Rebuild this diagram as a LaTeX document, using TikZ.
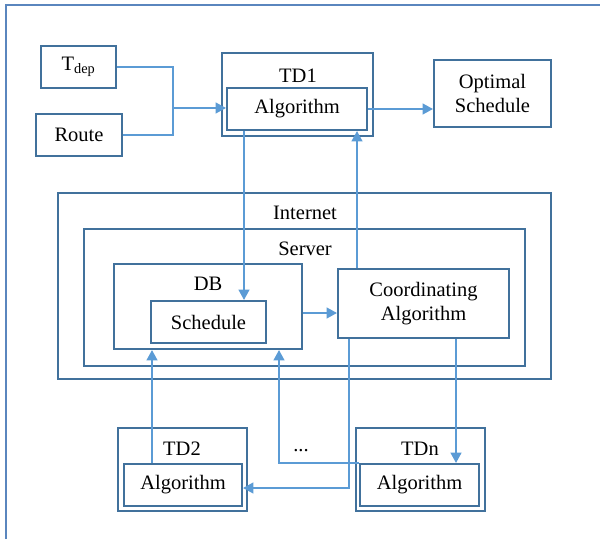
\documentclass[tikz,border=0pt]{standalone}
\usepackage{fontspec}
\setmainfont{Liberation Serif}
\usetikzlibrary{arrows.meta}
\definecolor{boxblue}{HTML}{41719C}
\definecolor{linkblue}{HTML}{5B9BD5}
\definecolor{frameblue}{HTML}{5A86BE}

\begin{document}
\begin{tikzpicture}[x=0.03cm,y=-0.03cm,>={Triangle[width=9pt,length=9pt]},
    box/.style={draw=boxblue,line width=1.5pt,rectangle,inner sep=0pt,align=center,font=\fontsize{17.5}{20}\selectfont},
    tag/.style={inner sep=0pt,font=\fontsize{17.5}{20}\selectfont},
    link/.style={draw=linkblue,line width=2.3pt}]
                \useasboundingbox (0,0) rectangle (600,539);
                \draw[frameblue,line width=1.5pt] (6,539) -- (6,5) -- (600,5);

                \node[box,minimum width=2.25cm,minimum height=1.26cm] (tdep) at (78.5,67) {T\textsubscript{dep}};
                \node[box,minimum width=2.58cm,minimum height=1.26cm] (route) at (79,135) {Route};
                \node[box,minimum width=4.53cm,minimum height=2.49cm] (td1) at (297.5,94.5) {};
                \node[tag] (td1tag) at (298,76) {TD1};
                \node[box,minimum width=4.2cm,minimum height=1.26cm] (alg1) at (297,109) {Algorithm};
                \node[box,minimum width=3.51cm,minimum height=2.01cm] (opt) at (492.5,93.5) {Optimal\\Schedule};

                \node[box,minimum width=14.79cm,minimum height=5.58cm] (internet) at (304.5,286) {};
                \node[tag] (internettag) at (305,213) {Internet};
                \node[box,minimum width=13.23cm,minimum height=4.11cm] (server) at (304.5,297.5) {};
                \node[tag] (servertag) at (305,249) {Server};
                \node[box,minimum width=5.64cm,minimum height=2.55cm] (db) at (208,306.5) {};
                \node[tag] (dbtag) at (208,284) {DB};
                \node[box,minimum width=3.45cm,minimum height=1.26cm] (sched) at (208.5,322) {Schedule};
                \node[box,minimum width=5.13cm,minimum height=2.07cm] (coord) at (423.5,303.5) {Coordinating\\Algorithm};

                \node[box,minimum width=3.87cm,minimum height=2.49cm] (td2) at (182.5,469.5) {};
                \node[tag] (td2tag) at (182,449) {TD2};
                \node[box,minimum width=3.54cm,minimum height=1.26cm] (alg2) at (183,485) {Algorithm};
                \node[box,minimum width=3.87cm,minimum height=2.49cm] (tdn) at (420.5,469.5) {};
                \node[tag] (tdntag) at (420,449) {TDn};
                \node[box,minimum width=3.57cm,minimum height=1.26cm] (algn) at (419.5,485) {Algorithm};
                \node[tag] (dots) at (301,451) {...};

                \coordinate (join) at (173,108);
                \coordinate (down) at (244,0);
                \coordinate (up) at (357,0);
                \coordinate (dbrow) at (0,313);
                \coordinate (uptwo) at (152,0);
                \coordinate (upn) at (279,0);
                \coordinate (leftdown) at (349,0);
                \coordinate (lowrow) at (0,488);
                \coordinate (rightdown) at (456,0);

                \draw[link] (tdep.east) -| (join);
                \draw[link] (route.east) -| (join);
                \draw[link,->] (join) -- (join -| alg1.west);
                \draw[link,->] (alg1.east) -- (alg1.east -| opt.west);
                \draw[link,->] (alg1.south -| down) -- (sched.north -| down);
                \draw[link,->] (coord.north -| up) -- (alg1.south -| up);
                \draw[link,->] (db.east |- dbrow) -- (coord.west |- dbrow);
                \draw[link,->] (alg2.north -| uptwo) -- (db.south -| uptwo);
                \draw[link,->] (algn.north west) -| (db.south -| upn);
                \draw[link,->] (coord.south -| leftdown) |- (alg2.east |- lowrow);
                \draw[link,->] (coord.south -| rightdown) -- (algn.north -| rightdown);
            \end{tikzpicture}
\end{document}
